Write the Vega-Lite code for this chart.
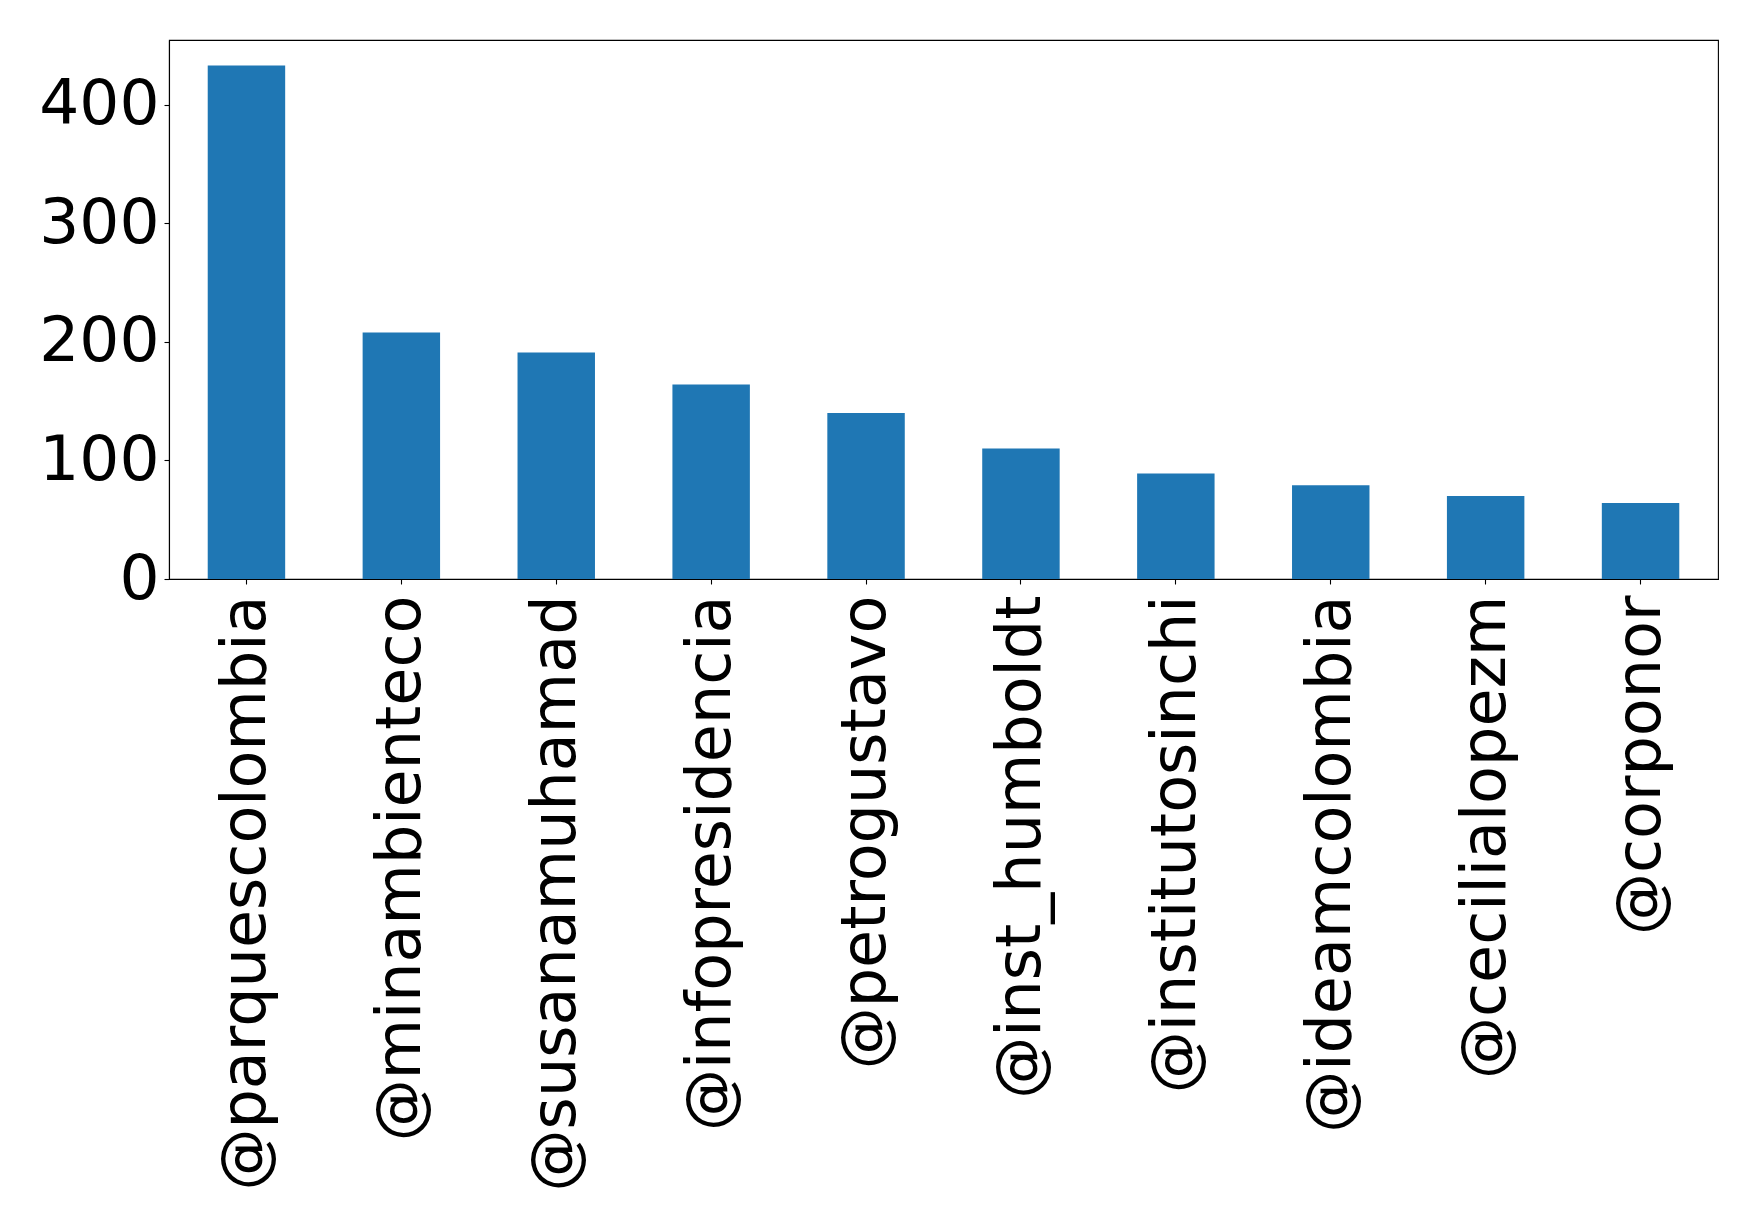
{
  "$schema": "https://vega.github.io/schema/vega-lite/v6.json",
  "width": 1549,
  "height": 539,
  "autosize": "none",
  "padding": {"left": 169, "top": 40, "right": 41, "bottom": 649},
  "background": "white",
  "config": {
    "view": {"stroke": "black", "strokeWidth": 1.1},
    "axis": {
      "grid": false,
      "domainColor": "black",
      "domainWidth": 1.1,
      "tickColor": "black",
      "tickWidth": 1.1,
      "tickSize": 5,
      "labelPadding": 5,
      "labelFont": "DejaVu Sans",
      "labelFontSize": 63,
      "labelColor": "black",
      "labelLimit": 0,
      "title": null
    }
  },
  "data": {
    "values": [
      {"user": "@parquescolombia", "count": 433},
      {"user": "@minambienteco", "count": 208},
      {"user": "@susanamuhamad", "count": 191},
      {"user": "@infopresidencia", "count": 164},
      {"user": "@petrogustavo", "count": 140},
      {"user": "@inst_humboldt", "count": 110},
      {"user": "@institutosinchi", "count": 89},
      {"user": "@ideamcolombia", "count": 79},
      {"user": "@cecilialopezm", "count": 70},
      {"user": "@corponor", "count": 64}
    ]
  },
  "mark": {"type": "bar", "color": "#1f77b4"},
  "encoding": {
    "x": {
      "field": "user",
      "type": "nominal",
      "sort": null,
      "scale": {"paddingInner": 0.5, "paddingOuter": 0.25},
      "axis": {"labelAngle": -90, "labelAlign": "right", "labelBaseline": "middle", "labelFontSize": 62, "labelPadding": 11}
    },
    "y": {
      "field": "count",
      "type": "quantitative",
      "scale": {"domain": [0, 454.6], "nice": false},
      "axis": {"values": [0, 100, 200, 300, 400]}
    }
  }
}
